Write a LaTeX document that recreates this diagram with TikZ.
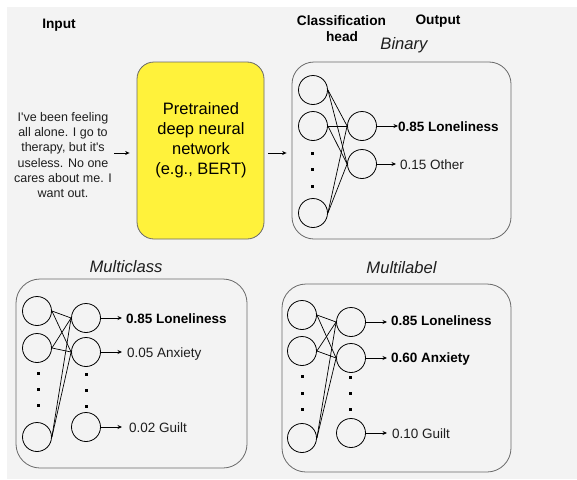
\documentclass[tikz,border=0pt]{standalone}
\usepackage{fontspec}
\setmainfont{Liberation Sans}
\usetikzlibrary{arrows.meta}
\definecolor{bg}{RGB}{243,243,243}
\definecolor{yel}{RGB}{255,242,59}
\definecolor{edgec}{RGB}{105,105,105}
\definecolor{txt}{RGB}{30,30,30}
\begin{document}
\begin{tikzpicture}[x=1pt,y=-1pt,
  neuron/.style={circle,draw=black,line width=0.8pt,minimum size=29pt,inner sep=0pt},
  panel/.style={draw=edgec,line width=0.8pt,rounded corners=22pt,inner sep=0pt},
  dotm/.style={fill=black,minimum size=3pt,inner sep=0pt},
  arr/.style={-{Stealth[length=4.5pt,width=4pt]},line width=0.8pt},
  conn/.style={line width=0.7pt},
  lbl/.style={font=\fontsize{13.5}{16}\selectfont,anchor=base west,inner sep=0pt,text=txt},
  blbl/.style={font=\fontsize{13.5}{16}\selectfont\bfseries,anchor=base west,inner sep=0pt},
  hd/.style={font=\fontsize{13.7}{16.5}\selectfont\bfseries,inner sep=0pt},
  ttl/.style={font=\fontsize{16.6}{20}\selectfont\itshape,inner sep=0pt,text=txt}]
\useasboundingbox (0,0) rectangle (577,479);
\fill[white] (0,0) rectangle (577,479);
\fill[bg] (7,7) rectangle (577,479);

% headers
\node[hd] (hinput) at (59,25) {Input};
\node[hd] (hcls) at (341.5,21) {Classification};
\node[hd] (hhead) at (342,37) {head};
\node[hd] (hout) at (438,21) {Output};

% input text
\node[font=\fontsize{12.5}{15.2}\selectfont,align=center,inner sep=0pt,text=txt] (inp) at (63,155)
  {I\textquotesingle ve been feeling\\all alone. I go to\\therapy, but it\textquotesingle s\\useless. No one\\cares about me. I\\want out.};

% yellow box
\node[panel,fill=yel,rounded corners=17pt,minimum width=127pt,minimum height=177pt] (ybox) at (200.5,150.5) {};
\node[font=\fontsize{16.5}{20}\selectfont,align=center,inner sep=0pt] (ptext) at (201,140)
  {Pretrained\\deep neural\\network\\(e.g., BERT)};

\coordinate (ay) at (0,153);
\draw[arr,shorten <=2pt,shorten >=7pt] (inp.east |- ay) -- (ybox.west |- ay);

% Binary
\node[ttl] (tbin) at (404,45) {Binary};
\node[panel,minimum width=219pt,minimum height=177pt] (bbox) at (401.5,150.5) {};
\draw[arr,shorten <=4pt,shorten >=5pt] (ybox.east |- ay) -- (bbox.west |- ay);

\node[neuron] (bi1) at (313,90) {};
\node[neuron] (bi2) at (313,126) {};
\node[neuron] (bi4) at (313,213) {};
\node[dotm] (bd1) at (312,153) {};
\node[dotm] (bd2) at (312,169) {};
\node[dotm] (bd3) at (312,186) {};
\node[neuron] (bo1) at (362,126) {};
\node[neuron] (bo2) at (362,164) {};
\foreach \i in {bi1,bi2,bi4}{\foreach \o in {bo1,bo2}{\draw[conn] (\i.east) -- (\o.west);}}
\node[blbl] (bt1) at (398,131) {0.85 Loneliness};
\node[lbl] (bt2) at (400,169) {0.15 Other};
\draw[arr] (bo1.east) -- (bt1.west |- bo1.east);
\draw[arr,shorten >=4pt] (bo2.east) -- (bt2.west |- bo2.east);

% Multiclass
\node[ttl] (tmc) at (126,267) {Multiclass};
\node[panel,rounded corners=24pt,minimum width=231pt,minimum height=189pt] (mbox) at (131.5,373.5) {};
\node[neuron] (mi1) at (37,311) {};
\node[neuron] (mi2) at (37,348) {};
\node[neuron] (mi4) at (37,437) {};
\node[dotm] (md1) at (38,373) {};
\node[dotm] (md2) at (38,389) {};
\node[dotm] (md3) at (38,405) {};
\node[neuron] (mo1) at (86,318) {};
\node[neuron] (mo2) at (86,352) {};
\node[neuron] (mo4) at (86,427) {};
\node[dotm] (me1) at (86,374) {};
\node[dotm] (me2) at (86,390) {};
\node[dotm] (me3) at (86,406) {};
\foreach \i in {mi1,mi2,mi4}{\foreach \o in {mo1,mo2}{\draw[conn] (\i.east) -- (\o.west);}}
\node[blbl] (mt1) at (126,323) {0.85 Loneliness};
\node[lbl] (mt2) at (127,357) {0.05 Anxiety};
\node[lbl] (mt3) at (129,432) {0.02 Guilt};
\draw[arr,shorten >=4pt] (mo1.east) -- (mt1.west |- mo1.east);
\draw[arr,shorten >=5pt] (mo2.east) -- (mt2.west |- mo2.east);
\draw[arr,shorten >=7pt] (mo4.east) -- (mt3.west |- mo4.east);

% Multilabel
\node[ttl] (tml) at (401.5,268) {Multilabel};
\node[panel,rounded corners=24pt,minimum width=229pt,minimum height=188pt] (lbox) at (396.5,378) {};
\node[neuron] (li1) at (302,315) {};
\node[neuron] (li2) at (302,351) {};
\node[neuron] (li4) at (302,438) {};
\node[dotm] (ld1) at (302,376) {};
\node[dotm] (ld2) at (302,393) {};
\node[dotm] (ld3) at (302,409) {};
\node[neuron] (lo1) at (351,322) {};
\node[neuron] (lo2) at (351,358) {};
\node[neuron] (lo4) at (351,433) {};
\node[dotm] (le1) at (350,377) {};
\node[dotm] (le2) at (350,393) {};
\node[dotm] (le3) at (350,409) {};
\foreach \i in {li1,li2,li4}{\foreach \o in {lo1,lo2}{\draw[conn] (\i.east) -- (\o.west);}}
\node[blbl] (lt1) at (391,325) {0.85 Loneliness};
\node[blbl] (lt2) at (391,362) {0.60 Anxiety};
\node[lbl] (lt3) at (392,438) {0.10 Guilt};
\draw[arr,shorten >=4pt] (lo1.east) -- (lt1.west |- lo1.east);
\draw[arr,shorten >=4pt] (lo2.east) -- (lt2.west |- lo2.east);
\draw[arr,shorten >=5pt] (lo4.east) -- (lt3.west |- lo4.east);
\end{tikzpicture}
\end{document}
